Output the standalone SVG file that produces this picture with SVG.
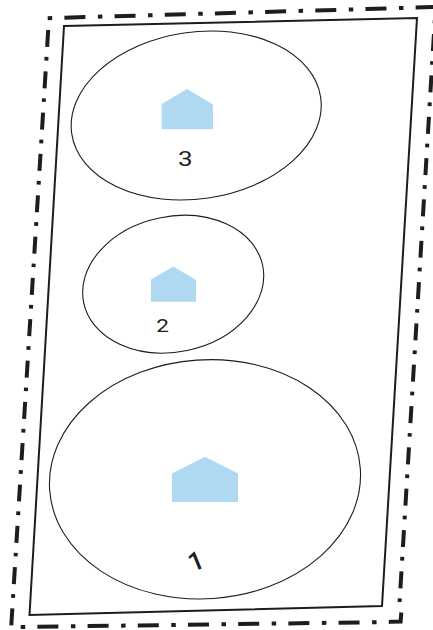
<svg xmlns="http://www.w3.org/2000/svg" width="433" height="630" viewBox="0 0 433 630">
<style>
.b{fill:none;stroke:#1d1d1b;stroke-width:4}
.h{stroke-dasharray:4.5 12.2 21 12.5}
.v{stroke-dasharray:17 10 3.7 10.7}
.w{stroke-dasharray:3.7 10 17 10.7}
.e{fill:none;stroke:#1d1d1b;stroke-width:1.1}
.r{fill:none;stroke:#1d1d1b;stroke-width:2}
.p{fill:#afd8f1}
.t{font-family:Roboto,"Liberation Sans",sans-serif;fill:#1d1d1b;text-anchor:middle}
</style>
<rect width="433" height="630" fill="#fff"/>
<g id="boundary">
<path class="b h" d="M47.7 18.2L450 6.6"/>
<path class="b v" d="M48.2 30L11.2 627"/>
<path class="b h" d="M20.7 627L390 622"/>
<path class="b" d="M390 621.800L400.600 621.600L401.300 612.500"/>
<path class="b w" d="M399.600 602L436 0"/>
</g>
<g id="site"><path class="r" d="M64 26L417 18L382 606L29.500 615Z"/></g>
<g id="area-3">
<ellipse class="e" cx="196.200" cy="115.500" rx="125.800" ry="83.400" transform="rotate(-8.400 196.200 115.500)"/>
<path class="p" d="M161.700 129.200H213V104.500L187 89L161.700 104Z"/>
<text class="t" font-size="20" transform="translate(185.300 166.300) scale(1.3 1)">3</text>
</g>
<g id="area-2">
<ellipse class="e" cx="173.200" cy="284.200" rx="91.400" ry="67.700" transform="rotate(-11.800 173.200 284.200)"/>
<path class="p" d="M151 301.700H196V280L173.300 266.500L151 279.500Z"/>
<text class="t" font-size="18" transform="translate(162.500 331.700) scale(1.25 1)">2</text>
</g>
<g id="area-1">
<ellipse class="e" cx="205" cy="479.300" rx="155.700" ry="119.500" transform="rotate(-3.900 205 479.300)"/>
<path class="p" d="M172 502H238V473.500L205 456.700L172 473.500Z"/>
<text class="t" font-size="26" font-weight="500" transform="translate(207.700 566) rotate(-22)" x="-9">1</text>
</g>
</svg>
